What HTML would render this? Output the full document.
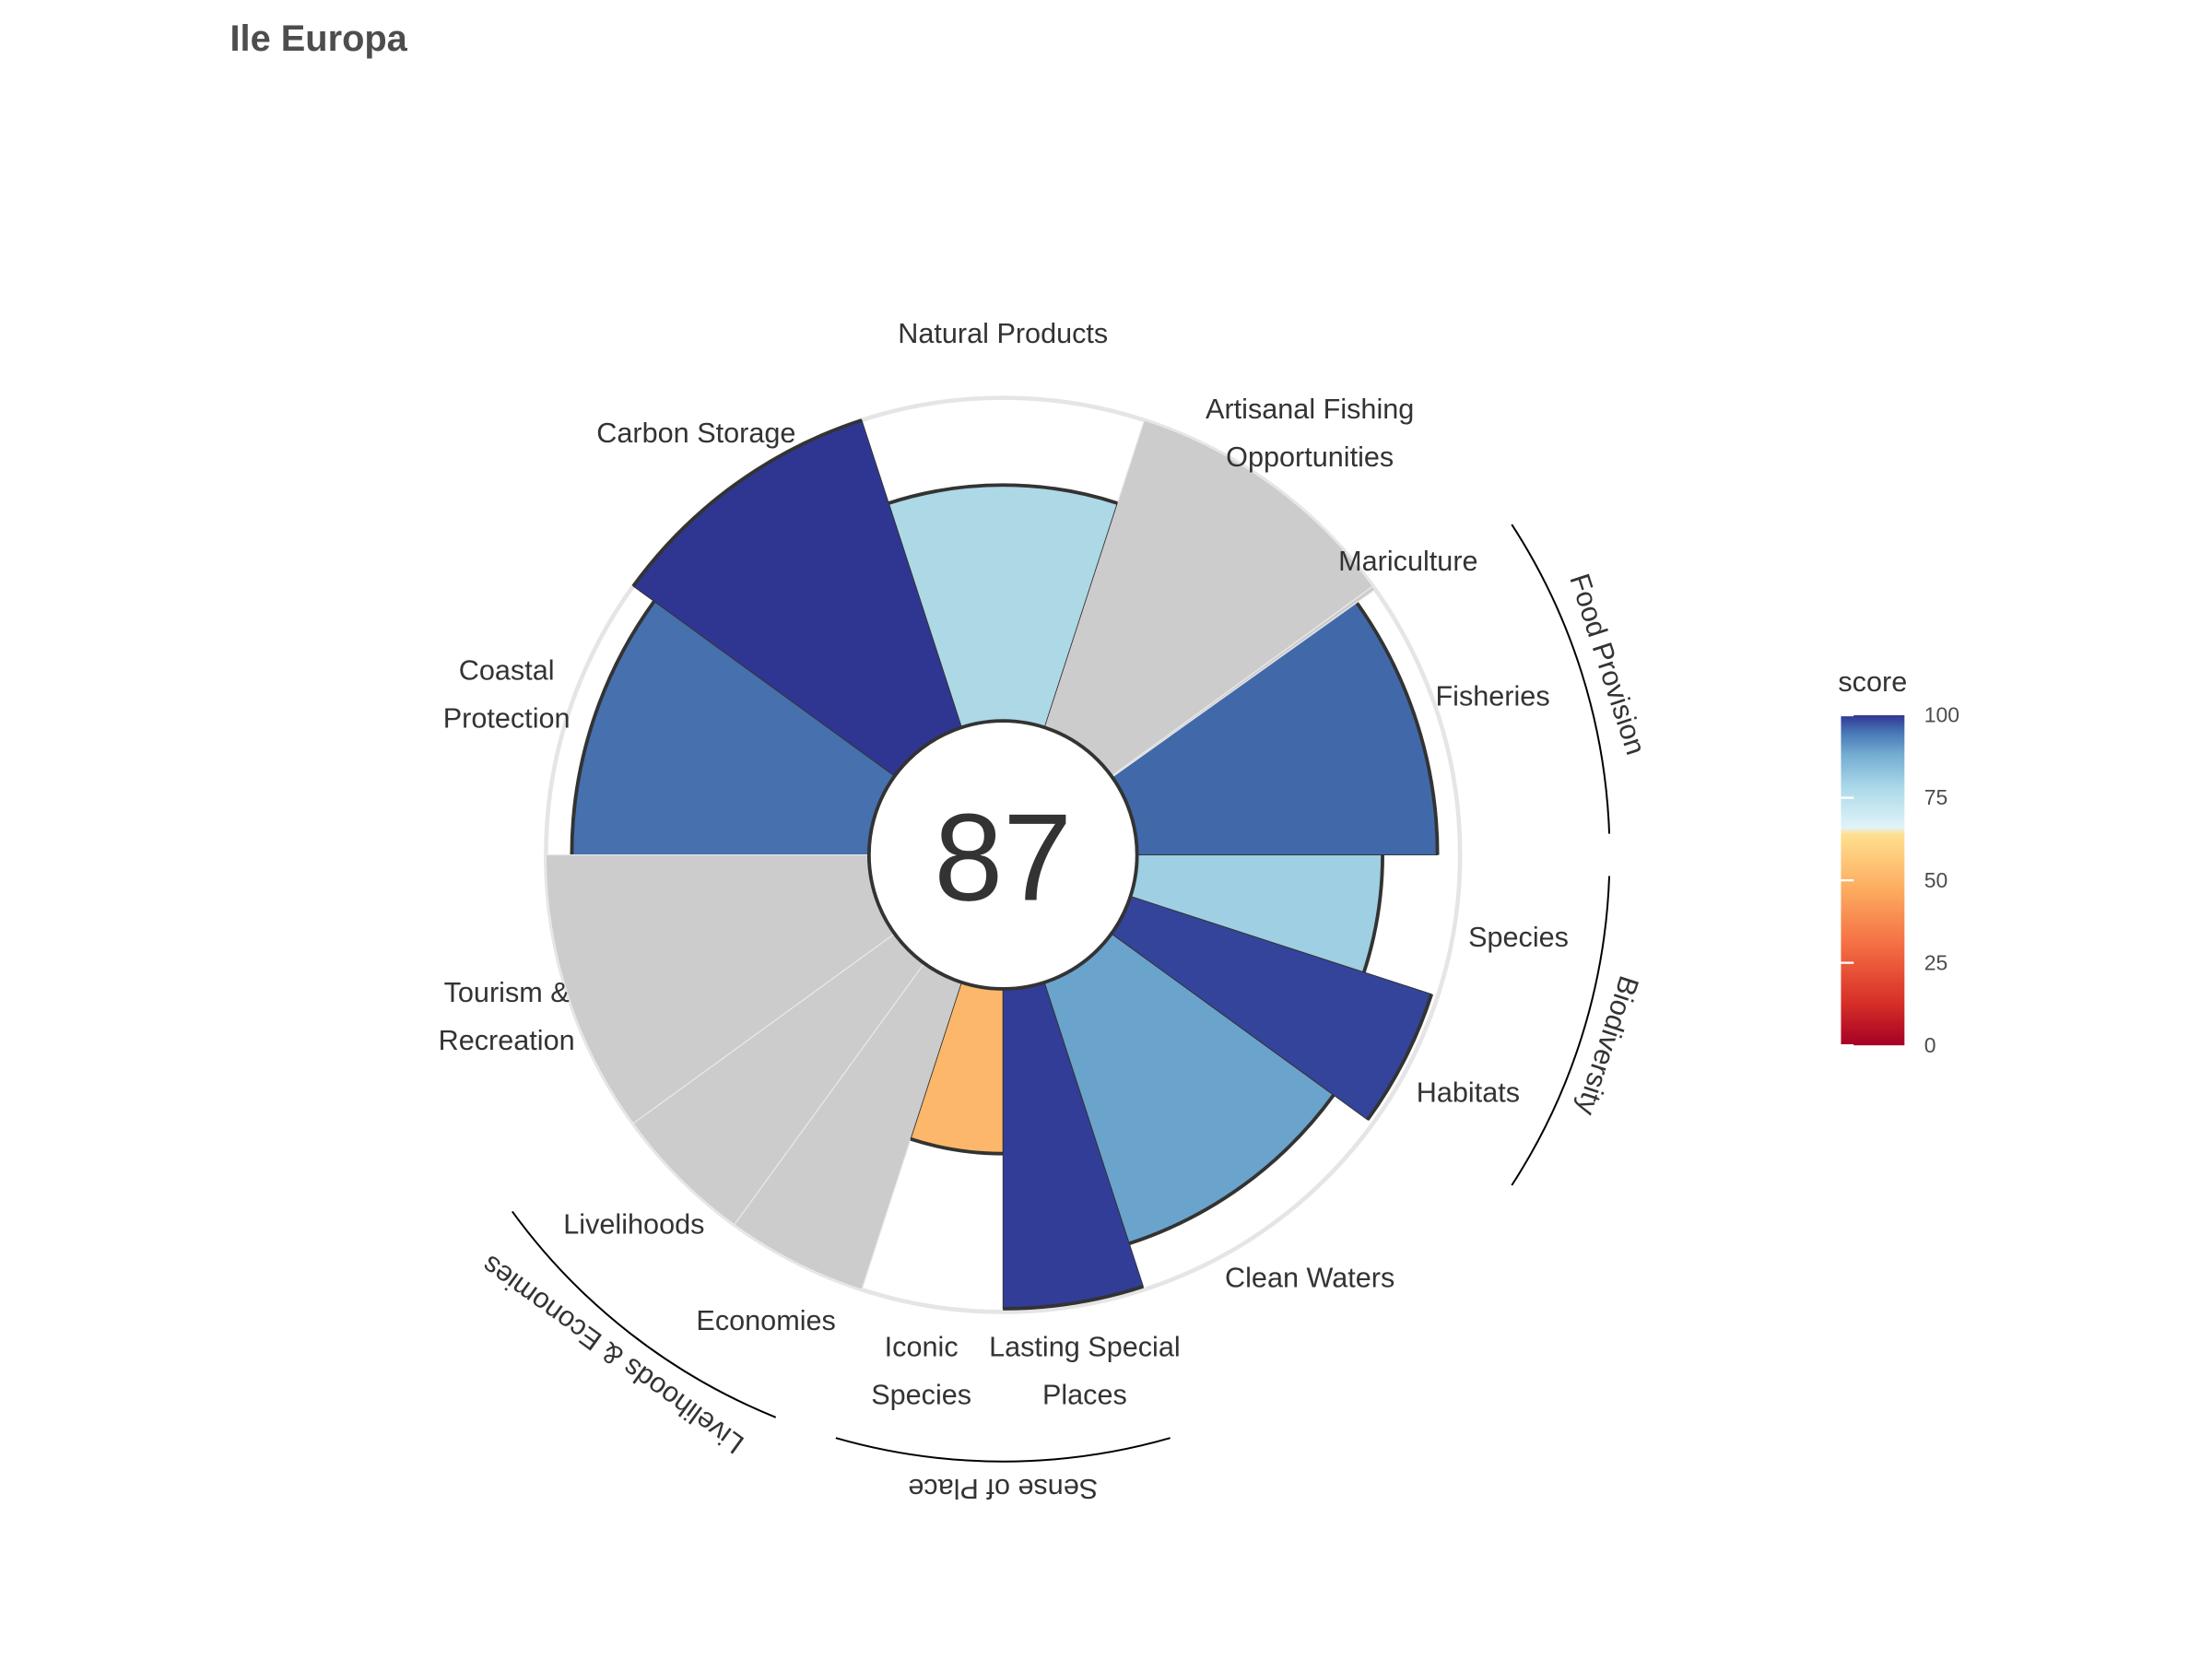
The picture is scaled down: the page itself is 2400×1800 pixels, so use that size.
<!DOCTYPE html>
<html><head><meta charset="utf-8"><style>
html,body{margin:0;padding:0;background:#fff;}
svg{display:block;font-family:"Liberation Sans",sans-serif;}
</style></head><body>
<svg id="chart" width="2400" height="1800" viewBox="0 0 1568 1176" xmlns="http://www.w3.org/2000/svg">
<defs>
<linearGradient id="grad" x1="0" y1="1" x2="0" y2="0">
<stop offset="0" stop-color="#a50026"/>
<stop offset="0.13" stop-color="#d73027"/>
<stop offset="0.3" stop-color="#f46d43"/>
<stop offset="0.48" stop-color="#fdae61"/>
<stop offset="0.64" stop-color="#fee090"/>
<stop offset="0.66" stop-color="#e0f3f8"/>
<stop offset="0.78" stop-color="#abd9e9"/>
<stop offset="0.88" stop-color="#74add1"/>
<stop offset="0.95" stop-color="#4575b4"/>
<stop offset="1" stop-color="#313695"/>
</linearGradient>
</defs>
<text x="163" y="36" font-size="26" font-weight="bold" fill="#4d4d4d">Ile Europa</text>
<circle cx="711" cy="606" r="324" fill="#fff" stroke="#e5e5e5" stroke-width="3"/>
<g id="petals"></g>
<circle cx="711" cy="606" r="95" fill="#fff" stroke="#333" stroke-width="2.5"/>
<text x="711" y="638" font-size="88" text-anchor="middle" fill="#333">87</text>
<g id="labels" font-size="20" fill="#333" text-anchor="middle"></g>
<g id="groups"></g>
<g>
<text x="1303" y="490" font-size="20" fill="#333">score</text>
<rect x="1305" y="507" width="45" height="234" fill="url(#grad)"/>
<g id="ticks"></g>
</g>
</svg>
<script>
const goals = ["Fisheries","Mariculture","Artisanal Fishing Opportunities","Natural Products","Carbon Storage","Coastal Protection","Tourism & Recreation","Livelihoods","Economies","Iconic Species","Lasting Special Places","Clean Waters","Habitats","Species"];
const weights = [35.5,0.5,36,36,36,36,36,18,18,18,18,36,18,18];
const scores = [93,null,null,73,100,92,null,null,null,51,99,85,98,76];
const labelLines = [["Fisheries"],["Mariculture"],["Artisanal Fishing","Opportunities"],["Natural Products"],["Carbon Storage"],["Coastal","Protection"],["Tourism &","Recreation"],["Livelihoods"],["Economies"],["Iconic","Species"],["Lasting Special","Places"],["Clean Waters"],["Habitats"],["Species"]];
const groupNames = ["Food Provision","Biodiversity","Sense of Place","Livelihoods & Economies"];
const tickValues = [0,25,50,75,100];

const NS="http://www.w3.org/2000/svg";
const cx=711, cy=606, r0=95, R=324;
function rad(s){return r0+(R-r0)*s/100;}
function pt(r,deg){const a=-deg*Math.PI/180;return [cx+r*Math.cos(a),cy+r*Math.sin(a)];}
const stops=[[0,[165,0,38]],[13,[215,48,39]],[30,[244,109,67]],[48,[253,174,97]],[64,[254,224,144]],[66,[224,243,248]],[70,[200,232,240]],[73,[173,216,230]],[76,[158,207,226]],[85,[106,163,204]],[93,[65,105,170]],[98,[51,68,154]],[100,[47,54,145]]];
function color(s){for(let i=1;i<stops.length;i++){if(s<=stops[i][0]){const a=stops[i-1],b=stops[i];const t=(s-a[0])/(b[0]-a[0]);const c=a[1].map((v,k)=>Math.round(v+(b[1][k]-v)*t));return `rgb(${c})`;}}return "rgb(47,54,145)";}
function mk(tag,attrs,parent){const e=document.createElementNS(NS,tag);for(const k in attrs)e.setAttribute(k,attrs[k]);parent.appendChild(e);return e;}
const pg=document.getElementById('petals');
let start=0;
const mids=[];
goals.forEach((g,i)=>{
  const a0=start,a1=start+weights[i];start=a1;mids.push((a0+a1)/2);
  const s=scores[i];const r=s==null?R:rad(s);
  const p0=pt(r0,a0),p1=pt(r,a0),p2=pt(r,a1),p3=pt(r0,a1);
  const d=`M${p0}L${p1}A${r},${r} 0 0 0 ${p2}L${p3}Z`;
  const path=mk('path',{d:d,fill:s==null?'#cccccc':color(s),stroke:s==null?'#e8e8e8':'#333','stroke-width':s==null?0.8:0.6},pg);
  
  
  if(s!=null){const arc=mk('path',{d:`M${p1}A${r},${r} 0 0 0 ${p2}`,fill:'none',stroke:'#333','stroke-width':2.5},pg);
    
    }
});
const lg=document.getElementById('labels');
goals.forEach((g,i)=>{
  let m=mids[i];let lr=370;
  if(i===1){m=36;lr=355;}
  if(i===0){m=18;lr=365;}
  const p=pt(lr,m);const lines=labelLines[i];
  const t=mk('text',{x:p[0].toFixed(1),y:(p[1]+7-(lines.length-1)*17).toFixed(1)},lg);
  
  
  lines.forEach((l,j)=>{const ts=mk('tspan',{x:p[0].toFixed(1),dy:j?34:0},t);ts.textContent=l;});
});
const gg=document.getElementById('groups');
const garcs=[[2,33],[-2,-33],[-74,-106],[-112,-144]];
const grot=[72,108,180,216];
groupNames.forEach((n,i)=>{
  const [a,b]=garcs[i];const Rg=430;
  const p=pt(Rg,a),q=pt(Rg,b);
  const arc=mk('path',{d:`M${p}A${Rg},${Rg} 0 0 ${a<b?0:1} ${q}`,fill:'none',stroke:'#000','stroke-width':1.3},gg);
  
  
  const m=(a+b)/2;const tp=pt(448,m);
  const t=mk('text',{x:tp[0],y:tp[1],'font-size':20,fill:'#333','text-anchor':'middle','dominant-baseline':'middle',transform:`rotate(${grot[i]} ${tp[0]} ${tp[1]})`},gg);
  
  
  t.textContent=n;
});
const tg=document.getElementById('ticks');
tickValues.forEach(v=>{
  const y=741-234*v/100;
  const l1=mk('line',{x1:1305,x2:1314,y1:y,y2:y,stroke:'#fff','stroke-width':1.5},tg);
  
  
  const t=mk('text',{x:1364,y:y+5,'font-size':15,fill:'#4d4d4d'},tg);
  
  
  t.textContent=v;
});
</script>
</body></html>
